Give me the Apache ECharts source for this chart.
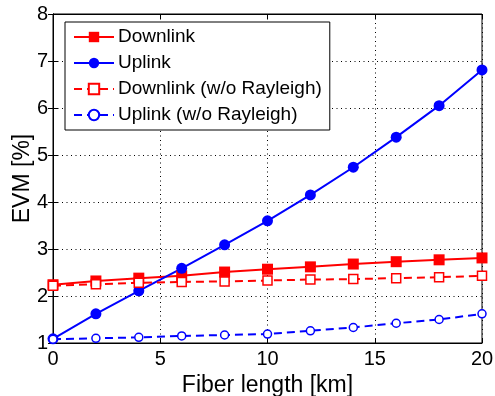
<!DOCTYPE html>
<html><head><meta charset="utf-8">
<script src="https://cdn.jsdelivr.net/npm/echarts@6/dist/echarts.min.js"></script>
<style>html,body{margin:0;padding:0;background:#fff}#c{width:495px;height:396px}</style>
</head><body><div id="c"></div>
<script>
const fiberKm = [0, 2, 4, 6, 8, 10, 12, 14, 16, 18, 20];
const downlink = [2.24, 2.32, 2.38, 2.43, 2.51, 2.57, 2.62, 2.68, 2.73, 2.77, 2.81];
const uplink = [1.09, 1.62, 2.11, 2.59, 3.09, 3.60, 4.15, 4.74, 5.38, 6.05, 6.81];
const downlinkNoRay = [2.22, 2.25, 2.28, 2.30, 2.31, 2.33, 2.35, 2.36, 2.38, 2.40, 2.43];
const uplinkNoRay = [1.08, 1.10, 1.12, 1.15, 1.17, 1.19, 1.26, 1.33, 1.42, 1.50, 1.62];
const names = ['Downlink', 'Uplink', 'Downlink (w/o Rayleigh)', 'Uplink (w/o Rayleigh)'];

const font = 'Liberation Sans, Arial, sans-serif';
const pair = a => fiberKm.map((x, i) => [x, a[i]]);
const dotted = {show: true, lineStyle: {color: '#000', type: [1, 3.5], width: 1}};
const chart = echarts.init(document.getElementById('c'));
chart.setOption({
  animation: false,
  backgroundColor: '#fff',
  grid: {left: 53, right: 13, top: 14, bottom: 53, show: true, borderColor: '#000', borderWidth: 1,
         containLabel: false, outerBoundsMode: 'none'},
  legend: {
    orient: 'vertical', left: 65, top: 22, padding: [4, 8, 4, 8], itemGap: 4, itemWidth: 40, itemHeight: 13,
    borderColor: '#000', borderWidth: 1, borderRadius: 0, backgroundColor: '#fff',
    textStyle: {fontFamily: font, fontSize: 19, color: '#000', padding: [0, 0, 0, -1], lineHeight: 22},
    data: names
  },
  xAxis: [{
    type: 'value', min: 0, max: 20, interval: 5,
    name: 'Fiber length [km]', nameLocation: 'middle', nameGap: 31, nameMoveOverlap: false,
    nameTextStyle: {fontFamily: font, fontSize: 23, color: '#000'},
    axisLine: {lineStyle: {color: '#000'}}, axisTick: {inside: true, length: 5, lineStyle: {color: '#000'}},
    axisLabel: {fontFamily: font, fontSize: 20, color: '#000', margin: 6},
    splitLine: dotted
  }, {
    type: 'value', position: 'top', min: 0, max: 20, interval: 5,
    axisLine: {lineStyle: {color: '#000'}}, axisTick: {inside: true, length: 5, lineStyle: {color: '#000'}},
    axisLabel: {show: false}, splitLine: {show: false}
  }],
  yAxis: [{
    type: 'value', min: 1, max: 8, interval: 1,
    name: 'EVM [%]', nameLocation: 'middle', nameGap: 19, nameMoveOverlap: false,
    nameTextStyle: {fontFamily: font, fontSize: 23, color: '#000'},
    axisLine: {show: true, lineStyle: {color: '#000'}}, axisTick: {show: true, inside: true, length: 5, lineStyle: {color: '#000'}},
    axisLabel: {fontFamily: font, fontSize: 20, color: '#000', margin: 5},
    splitLine: dotted
  }, {
    type: 'value', position: 'right', min: 1, max: 8, interval: 1,
    axisLine: {show: true, lineStyle: {color: '#000'}}, axisTick: {show: true, inside: true, length: 5, lineStyle: {color: '#000'}},
    axisLabel: {show: false}, splitLine: {show: false}
  }],
  series: [
    {name: names[0], type: 'line', data: pair(downlink), symbol: 'rect', symbolSize: 11, clip: false,
     itemStyle: {color: '#ff0000'}, lineStyle: {color: '#ff0000', width: 2}},
    {name: names[1], type: 'line', data: pair(uplink), symbol: 'circle', symbolSize: 11, clip: false,
     itemStyle: {color: '#0000ff'}, lineStyle: {color: '#0000ff', width: 2}},
    {name: names[2], type: 'line', data: pair(downlinkNoRay), symbol: 'rect', symbolSize: 9, clip: false,
     itemStyle: {color: '#fff', borderColor: '#ff0000', borderWidth: 1.5},
     lineStyle: {color: '#ff0000', width: 2, type: [8, 5]}},
    {name: names[3], type: 'line', data: pair(uplinkNoRay), symbol: 'circle', symbolSize: 8, clip: false,
     itemStyle: {color: '#fff', borderColor: '#0000ff', borderWidth: 1.5},
     lineStyle: {color: '#0000ff', width: 2, type: [8, 5]}}
  ]
});
</script></body></html>
